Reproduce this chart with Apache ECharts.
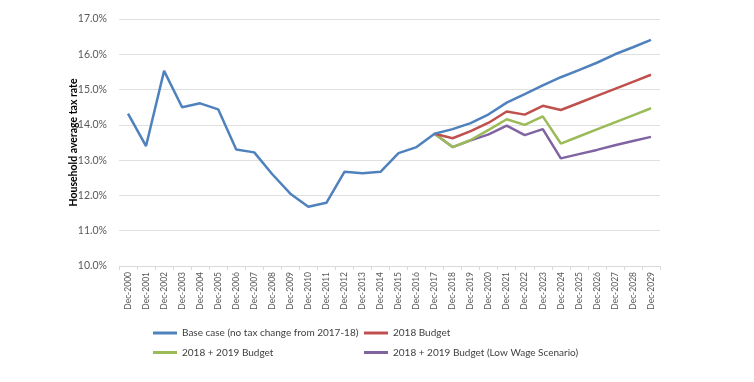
<!DOCTYPE html>
<html><head><meta charset="utf-8">
<script src="https://cdn.jsdelivr.net/npm/echarts@6/dist/echarts.min.js"></script>
<style>html,body{margin:0;padding:0;background:#fff}#c{width:754px;height:382px}</style>
</head><body><div id="c"></div>
<script>
const categories = ['Dec-2000','Dec-2001','Dec-2002','Dec-2003','Dec-2004','Dec-2005','Dec-2006','Dec-2007','Dec-2008','Dec-2009','Dec-2010','Dec-2011','Dec-2012','Dec-2013','Dec-2014','Dec-2015','Dec-2016','Dec-2017','Dec-2018','Dec-2019','Dec-2020','Dec-2021','Dec-2022','Dec-2023','Dec-2024','Dec-2025','Dec-2026','Dec-2027','Dec-2028','Dec-2029'];
const baseCase = [14.32,13.40,15.53,14.50,14.61,14.44,13.30,13.22,12.60,12.05,11.68,11.79,12.67,12.63,12.67,13.20,13.37,13.75,13.88,14.05,14.30,14.63,14.87,15.12,15.35,15.55,15.76,16.00,16.20,16.41];
const budget2018 = [null,null,null,null,null,null,null,null,null,null,null,null,null,null,null,null,null,13.75,13.62,13.82,14.06,14.38,14.29,14.54,14.42,14.62,14.82,15.02,15.22,15.42];
const budget2019 = [null,null,null,null,null,null,null,null,null,null,null,null,null,null,null,null,null,13.75,13.37,13.57,13.86,14.16,14.00,14.24,13.47,13.67,13.87,14.07,14.27,14.47];
const lowWage = [null,null,null,null,null,null,null,null,null,null,null,null,null,null,null,null,null,13.75,13.37,13.56,13.73,13.98,13.71,13.88,13.05,13.17,13.29,13.42,13.54,13.66];
const yTicks = {min: 10, max: 17, interval: 1};
const seriesNames = ['Base case (no tax change from 2017-18)','2018 Budget','2018 + 2019 Budget','2018 + 2019 Budget (Low Wage Scenario)'];
const colors = ['#4F81BD','#C0504D','#9BBB59','#8064A2'];

const chart = echarts.init(document.getElementById('c'), null, {renderer:'canvas'});
const font = 'Lato';
const mk = (name, data, i) => ({
  name, type:'line', data, symbol:'none', smooth:false, connectNulls:false,
  lineStyle:{color:colors[i], width:2.5}, itemStyle:{color:colors[i]}, z: 10 - i
});
const legendText = {fontFamily:font, fontSize:10, color:'#404040', lineHeight:14};
const leg = (name, left, top) => ({data:[name], left, top, itemWidth:24, itemHeight:3, itemGap:0, icon:'rect', padding:0, textStyle:legendText});
chart.setOption({
  animation:false,
  backgroundColor:'#fff',
  color: colors,
  grid:{left:119, right:94, top:19, bottom:116, containLabel:false},
  legend:[
    leg(seriesNames[0], 153, 326),
    leg(seriesNames[1], 364, 326),
    leg(seriesNames[2], 153, 345.5),
    leg(seriesNames[3], 364, 345.5)
  ],
  xAxis:{
    type:'category', data:categories, boundaryGap:true,
    axisLine:{show:true, lineStyle:{color:'#d9d9d9', width:1}},
    axisTick:{show:true, alignWithLabel:false, length:4, lineStyle:{color:'#d9d9d9'}},
    axisLabel:{rotate:90, interval:0, fontFamily:font, fontSize:8.5, color:'#595959', margin:6},
    splitLine:{show:false}
  },
  yAxis:{
    type:'value', min:yTicks.min, max:yTicks.max, interval:yTicks.interval,
    name:'Household average tax rate', nameLocation:'middle', nameGap:45, nameRotate:90,
    nameMoveOverlap:false,
    nameTextStyle:{fontFamily:font, fontSize:10.5, fontWeight:'bold', color:'#000', verticalAlign:'middle'},
    axisLine:{show:false}, axisTick:{show:false},
    axisLabel:{fontFamily:font, fontSize:10.5, color:'#595959', margin:12, formatter:v=>v.toFixed(1)+'%'},
    splitLine:{show:true, lineStyle:{color:'#e0e0e0', width:1}}
  },
  series:[mk(seriesNames[0], baseCase, 0), mk(seriesNames[1], budget2018, 1), mk(seriesNames[2], budget2019, 2), mk(seriesNames[3], lowWage, 3)]
});
</script></body></html>
